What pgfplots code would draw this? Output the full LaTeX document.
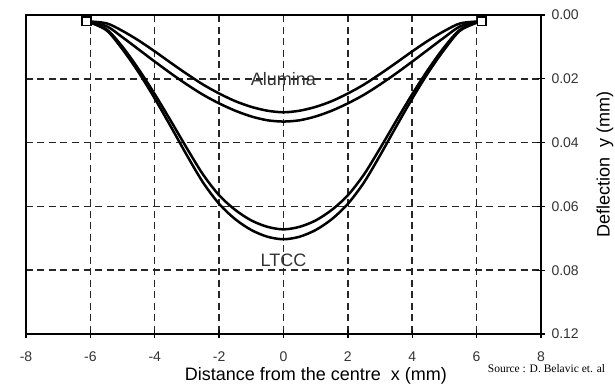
\documentclass[border=0pt]{standalone}
\usepackage{fontspec}
\setmainfont{Liberation Sans}
\newfontfamily\srcfont{Liberation Serif}
\usepackage{pgfplots}
\usepackage{pgfplotstable}
\pgfplotsset{compat=1.18}

\pgfplotstableread{
x y
-6.10 0.0020
-5.5 0.0026
-5.0 0.0050
-4.5 0.0080
-4.0 0.0114
-3.5 0.0150
-3.0 0.0185
-2.5 0.0218
-2.0 0.0246
-1.5 0.0270
-1.0 0.0288
-0.5 0.0300
0.0 0.0305
0.5 0.0300
1.0 0.0288
1.5 0.0270
2.0 0.0246
2.5 0.0218
3.0 0.0185
3.5 0.0150
4.0 0.0114
4.5 0.0080
5.0 0.0050
5.5 0.0026
6.12 0.0020
}\aluminaA

\pgfplotstableread{
x y
-6.10 0.0020
-5.5 0.0035
-5.0 0.0070
-4.5 0.0108
-4.0 0.0146
-3.5 0.0183
-3.0 0.0218
-2.5 0.0250
-2.0 0.0277
-1.5 0.0300
-1.0 0.0318
-0.5 0.0330
0.0 0.0334
0.5 0.0330
1.0 0.0318
1.5 0.0300
2.0 0.0277
2.5 0.0250
3.0 0.0218
3.5 0.0183
4.0 0.0146
4.5 0.0108
5.0 0.0070
5.5 0.0035
6.12 0.0020
}\aluminaB

\pgfplotstableread{
x y
-6.10 0.0020
-5.5 0.0045
-5.0 0.0100
-4.5 0.0170
-4.0 0.0248
-3.5 0.0332
-3.0 0.0418
-2.5 0.0500
-2.0 0.0565
-1.5 0.0611
-1.0 0.0644
-0.5 0.0664
0.0 0.0672
0.5 0.0664
1.0 0.0644
1.5 0.0611
2.0 0.0565
2.5 0.0500
3.0 0.0418
3.5 0.0332
4.0 0.0248
4.5 0.0170
5.0 0.0100
5.5 0.0045
6.12 0.0020
}\ltccA

\pgfplotstableread{
x y
-6.10 0.0020
-5.5 0.0048
-5.0 0.0108
-4.5 0.0180
-4.0 0.0262
-3.5 0.0350
-3.0 0.0440
-2.5 0.0525
-2.0 0.0592
-1.5 0.0640
-1.0 0.0674
-0.5 0.0695
0.0 0.0703
0.5 0.0695
1.0 0.0674
1.5 0.0640
2.0 0.0592
2.5 0.0525
3.0 0.0440
3.5 0.0350
4.0 0.0262
4.5 0.0180
5.0 0.0108
5.5 0.0048
6.12 0.0020
}\ltccB

\begin{document}
\begin{tikzpicture}
\useasboundingbox (-26pt,-51pt) rectangle (589pt,334pt);
\begin{axis}[
  at={(0pt,0pt)}, anchor=south west,
  scale only axis, width=515pt, height=319pt,
  xmin=-8, xmax=8, ymin=0, ymax=0.10,
  y dir=reverse,
  clip=false,
  axis line style={black, line width=1.5pt},
  xtick={-8,-6,...,8},
  ytick={0,0.02,0.04,0.06,0.08,0.10},
  yticklabels={0.00,0.02,0.04,0.06,0.08,0.12},
  xtick pos=bottom, ytick pos=right,
  yticklabel pos=right,
  tick align=center,
  major tick length=8pt,
  tick style={black, line width=1.3pt},
  /pgf/number format/assume math mode=true,
  ticklabel style={font=\fontsize{14}{14}\selectfont, text=black!80},
  xticklabel style={yshift=-10pt},
  yticklabel style={xshift=3pt},
  grid=major,
  grid style={black!85, line width=1.5pt, dash pattern=on 7pt off 4.5pt},
  xlabel={Distance from the centre\ \ x (mm)},
  ylabel={Deflection\ \ y (mm)},
  xlabel style={font=\fontsize{18}{18}\selectfont, at={(axis description cs:0.563,-0.13)}, anchor=center},
  ylabel style={font=\fontsize{18}{18}\selectfont, at={(axis description cs:1.124,0.53)}, anchor=center, rotate=0},
]
\addplot[black, line width=2.5pt, smooth] table {\aluminaA};
\addplot[black, line width=2.5pt, smooth] table {\aluminaB};
\addplot[black, line width=2.5pt, smooth] table {\ltccA};
\addplot[black, line width=2.5pt, smooth] table {\ltccB};
\addplot[only marks, mark=square*, mark size=4.3pt, mark options={fill=white, draw=black, line width=1.5pt}] coordinates {(-6.12,0.002) (6.16,0.002)};
\node[font=\fontsize{18}{18}\selectfont, text=black!80] at (axis cs:0,0.0200) {Alumina};
\node[font=\fontsize{18}{18}\selectfont, text=black!80] at (axis cs:0,0.0769) {LTCC};
\node[anchor=west, font=\srcfont\fontsize{11.5}{11.5}\selectfont] at (axis description cs:0.89,-0.107) {Source : D. Belavic et. al};
\end{axis}
\end{tikzpicture}
\end{document}
